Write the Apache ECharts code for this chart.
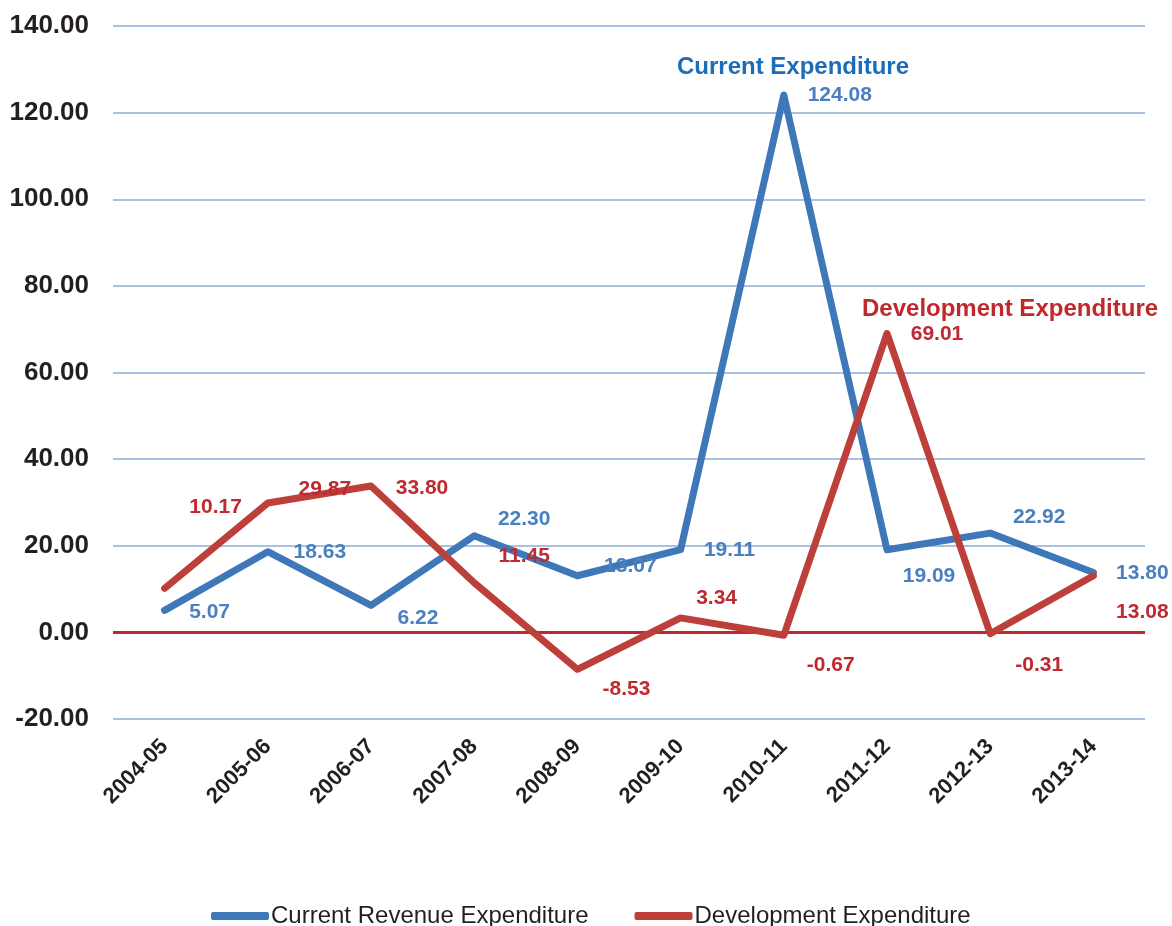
<!DOCTYPE html>
<html>
<head>
<meta charset="utf-8">
<script src="https://cdn.jsdelivr.net/npm/echarts@6/dist/echarts.min.js"></script>
<style>
html,body{margin:0;padding:0;background:#fff;}
#chart{width:1172px;height:926px;}
</style>
</head>
<body>
<div id="chart"></div>
<script>
const categories = ['2004-05','2005-06','2006-07','2007-08','2008-09','2009-10','2010-11','2011-12','2012-13','2013-14'];
const currentRevenue = [5.07, 18.63, 6.22, 22.30, 13.07, 19.11, 124.08, 19.09, 22.92, 13.80];
const development = [10.17, 29.87, 33.80, 11.45, -8.53, 3.34, -0.67, 69.01, -0.31, 13.08];
const seriesNames = ['Current Revenue Expenditure', 'Development Expenditure'];
const yTicks = { min: -20, max: 140, interval: 20 };

// label offsets (styling only)
const blueOffsets = [[45,2],[52,1],[47,13],[50,-17],[53,-10],[49,1],[56,0],[42,27],[49,-16],[49,1]];
const redOffsets = [[51,-81],[57,-14],[51,2],[50,-27],[49,20],[36,-20],[47,30],[50,1],[49,31],[49,36]];

const BLUE = '#3f78b9';
const RED = '#bc3f3a';
const BLUE_LBL = '#4a80c2';
const RED_LBL = '#be2a2f';
const FONT = '"Liberation Sans", Arial, Helvetica, sans-serif';

function mkData(vals, offs) {
  return vals.map((v, i) => ({
    value: v,
    label: { offset: offs[i] }
  }));
}

const chart = echarts.init(document.getElementById('chart'), null, { renderer: 'canvas' });
chart.setOption({
  animation: false,
  textStyle: { fontFamily: FONT },
  grid: { left: 113, right: 27, top: 26, bottom: 207, containLabel: false },
  legend: {
    bottom: -7,
    left: 206,
    itemWidth: 58,
    itemHeight: 8,
    itemGap: 46,
    icon: 'roundRect',
    textStyle: { fontFamily: FONT, fontSize: 24, color: '#231f20', padding: [0,0,0,-3] },
    data: seriesNames
  },
  xAxis: {
    type: 'category',
    data: categories,
    boundaryGap: true,
    axisLine: { show: false },
    axisTick: { show: false },
    axisLabel: {
      rotate: 45,
      margin: 24,
      interval: 0,
      fontFamily: FONT,
      fontSize: 22,
      fontWeight: 'bold',
      color: '#231f20'
    }
  },
  yAxis: {
    type: 'value',
    min: yTicks.min,
    max: yTicks.max,
    interval: yTicks.interval,
    axisLine: { show: false },
    axisTick: { show: false },
    axisLabel: {
      margin: 24,
      fontFamily: FONT,
      fontSize: 26,
      fontWeight: 'bold',
      color: '#231f20',
      formatter: v => v.toFixed(2)
    },
    splitLine: { lineStyle: { color: '#a9c1e1', width: 2 } }
  },
  series: [
    {
      name: seriesNames[0],
      type: 'line',
      data: mkData(currentRevenue, blueOffsets),
      symbol: 'circle',
      symbolSize: 1,
      showSymbol: true,
      itemStyle: { color: BLUE },
      lineStyle: { color: BLUE, width: 7, cap: 'round', join: 'round' },
      label: {
        show: true,
        position: 'inside',
        fontFamily: FONT,
        fontSize: 21,
        fontWeight: 'bold',
        color: BLUE_LBL,
        formatter: p => p.value.toFixed(2)
      },
      z: 3
    },
    {
      name: seriesNames[1],
      type: 'line',
      data: mkData(development, redOffsets),
      symbol: 'circle',
      symbolSize: 1,
      showSymbol: true,
      itemStyle: { color: RED },
      lineStyle: { color: RED, width: 7, cap: 'round', join: 'round' },
      label: {
        show: true,
        position: 'inside',
        fontFamily: FONT,
        fontSize: 21,
        fontWeight: 'bold',
        color: RED_LBL,
        formatter: p => p.value.toFixed(2)
      },
      markLine: {
        silent: true,
        symbol: 'none',
        label: { show: false },
        lineStyle: { color: '#c0282d', width: 3, type: 'solid' },
        data: [{ yAxis: 0 }],
        z: 1
      },
      z: 4
    }
  ],
  graphic: [
    {
      type: 'text',
      left: 677, top: 55,
      style: { text: 'Current Expenditure', fill: '#1a6dbb', font: 'bold 24px ' + FONT }
    },
    {
      type: 'text',
      left: 862, top: 297,
      style: { text: 'Development Expenditure', fill: '#c0282d', font: 'bold 24px ' + FONT }
    }
  ]
});
</script>
</body>
</html>
